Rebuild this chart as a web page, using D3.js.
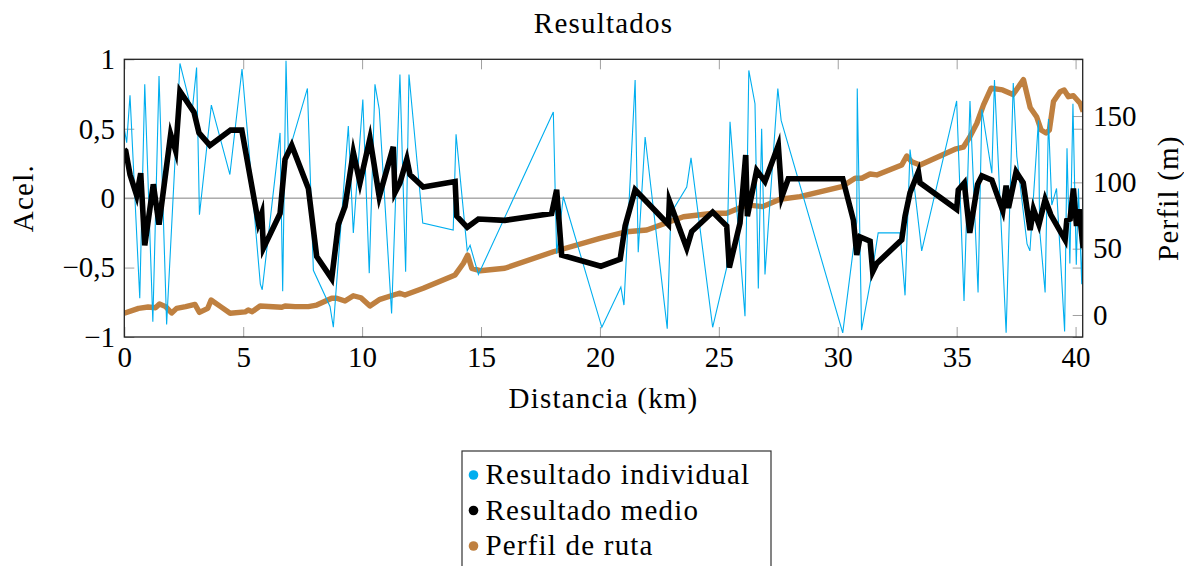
<!DOCTYPE html>
<html>
<head>
<meta charset="utf-8">
<script src="https://cdn.jsdelivr.net/npm/d3@7"></script>
<style>
  body { margin: 0; background: #fff; }
  svg { display: block; }
  text { font-family: "Liberation Serif", "Times New Roman", serif; fill: #000; }
</style>
</head>
<body>
<svg id="chart" width="1184" height="566"></svg>
<script>
// Individual acceleration result along the route
const distIndividual = [0.00,0.10,0.24,0.65,0.86,1.20,1.46,1.78,2.34,2.85,3.04,3.16,3.66,4.44,4.95,5.72,5.80,6.55,6.66,6.80,6.90,7.70,7.95,8.65,8.79,9.42,9.63,10.03,10.30,10.54,10.72,11.24,11.59,11.83,11.97,12.55,13.83,13.95,14.42,14.54,14.89,18.04,18.18,18.46,20.08,20.88,21.01,21.48,21.61,21.90,22.83,22.98,23.65,23.83,24.74,25.33,25.47,26.10,26.26,26.52,26.66,26.80,26.94,27.48,27.62,30.21,30.80,30.82,31.00,31.42,31.70,32.62,32.83,33.04,33.53,35.00,35.31,35.56,35.90,36.06,36.48,36.59,37.08,37.38,37.53,37.96,38.08,38.44,38.49,38.72,38.86,39.00,39.20,39.54,39.64,39.76,39.89,40.03,40.12,40.26,40.33];
const acelIndividual = [0.50,0.40,0.74,-0.72,0.82,-0.89,0.88,-0.91,0.97,0.62,0.94,-0.12,0.67,0.17,0.93,-0.62,-0.66,0.47,-0.67,0.99,0.32,0.79,-0.52,-0.78,-0.93,0.52,-0.25,0.71,-0.54,0.82,0.64,-0.83,0.89,-0.53,0.89,-0.18,-0.23,0.46,-0.38,-0.34,-0.55,0.62,-0.40,0.01,-0.93,-0.64,-0.77,0.85,-0.39,0.44,-0.94,-0.11,0.08,0.29,-0.93,-0.50,0.55,-0.85,0.92,0.68,-0.65,0.50,-0.55,0.79,0.56,-0.97,-0.17,0.79,-0.95,-0.56,-0.25,-0.25,-0.70,0.35,-0.38,0.70,-0.74,0.70,-0.68,0.64,0.18,0.85,-0.97,0.83,0.30,-0.33,-0.38,0.56,-0.23,-0.68,0.57,-0.05,0.07,-0.96,0.36,-0.47,0.68,-0.48,0.07,-0.62,0.06];

// Averaged acceleration result
const distMedio = [0.00,0.06,0.24,0.52,0.69,0.86,1.22,1.46,1.95,2.16,2.34,2.93,3.14,3.60,4.47,4.94,5.64,5.78,5.85,6.55,6.76,7.04,7.74,8.09,8.72,9.00,9.28,9.63,9.91,10.33,10.72,11.31,11.38,11.59,11.88,12.01,12.57,13.91,13.98,14.42,14.89,16.00,17.97,18.18,18.39,20.04,20.85,21.06,21.48,22.88,22.92,23.65,23.86,24.74,25.33,25.44,25.89,26.13,26.20,26.59,26.94,27.50,27.65,27.92,30.21,30.66,30.80,30.94,31.36,31.47,31.64,32.69,32.83,33.04,33.39,33.46,35.00,35.07,35.32,35.55,35.88,36.06,36.48,36.94,37.08,37.18,37.50,37.80,38.09,38.23,38.46,38.72,38.96,39.56,39.63,39.77,39.91,40.04,40.15,40.32];
const acelMedio = [0.35,0.34,0.17,0.02,0.18,-0.34,0.10,-0.19,0.46,0.34,0.77,0.62,0.47,0.38,0.49,0.49,-0.18,-0.11,-0.36,-0.11,0.28,0.38,0.07,-0.42,-0.58,-0.19,-0.06,0.33,0.11,0.43,0.01,0.37,0.04,0.11,0.28,0.17,0.08,0.12,-0.13,-0.21,-0.15,-0.16,-0.11,0.06,-0.41,-0.49,-0.44,-0.20,0.06,-0.19,-0.02,-0.36,-0.24,-0.10,-0.20,-0.50,-0.18,0.31,-0.13,0.20,0.12,0.38,0.01,0.14,0.14,-0.16,-0.41,-0.28,-0.31,-0.53,-0.47,-0.30,-0.13,0.04,0.19,0.11,-0.08,0.06,0.11,-0.25,0.10,0.16,0.13,-0.09,0.09,-0.07,0.19,0.11,-0.23,-0.08,-0.19,-0.01,-0.12,-0.30,-0.16,-0.15,0.07,-0.20,-0.08,-0.36];

// Route elevation profile (m)
const distPerfil = [0.00,0.60,1.00,1.32,1.48,1.74,1.99,2.20,2.58,2.97,3.16,3.51,3.65,4.05,4.45,5.08,5.21,5.38,5.71,6.62,6.76,7.18,7.74,8.09,8.72,8.93,9.28,9.63,9.95,10.33,10.75,11.46,11.59,11.80,12.57,13.91,14.26,14.44,14.61,14.96,16.00,18.04,20.00,21.13,21.97,23.51,24.77,25.33,26.17,26.85,27.57,28.41,30.17,30.73,31.01,31.36,31.64,32.69,32.90,33.11,33.46,34.93,35.28,35.56,35.85,36.13,36.45,36.93,37.37,37.81,38.09,38.36,38.55,38.76,38.90,39.07,39.35,39.52,39.70,39.91,40.19,40.32];
const altPerfil = [1.3,5.0,6.0,5.5,8.3,6.3,1.5,5.0,6.3,8.0,2.0,5.0,11.3,6.3,1.3,2.3,3.8,2.5,6.8,5.8,6.8,6.3,6.3,7.5,12.6,12.6,10.5,14.5,13.0,6.8,11.8,15.8,16.4,15.1,20.1,30.2,39.0,45.2,35.2,33.4,35.2,47.7,57.8,62.8,64.1,74.1,76.7,76.7,83.0,81.7,87.3,89.2,96.8,103.1,103.1,106.3,105.6,113.1,119.9,115.6,113.1,125.0,126.5,134.5,144.6,158.4,171.0,169.7,166.3,177.5,156.5,149.5,139.5,137.2,139.5,160.9,168.4,169.7,164.6,165.3,159.7,153.3];

// Axis ticks
const distTicks = [0, 5, 10, 15, 20, 25, 30, 35, 40];
const acelTicks = [-1, -0.5, 0, 0.5, 1];
const acelTickLabels = ["\u22121", "\u22120,5", "0", "0,5", "1"];
const perfilTicks = [0, 50, 100, 150];

// Legend
const legendLabels = ["Resultado individual", "Resultado medio", "Perfil de ruta"];
const legendColors = ["#00AEEF", "#000000", "#BF8040"];

const svg = d3.select("#chart");
const box = { left: 124.3, right: 1082.7, top: 59.3, bottom: 337 };
const FONT = 29;
const SPACING = 1.2;

const x = d3.scaleLinear().domain([0, 40.3]).range([box.left, box.right]);
const yAcel = d3.scaleLinear().domain([-1, 1]).range([box.bottom, box.top]);
const yPerfil = d3.scaleLinear().domain([-16.6, 192.8]).range([box.bottom, box.top]);

svg.append("defs").append("clipPath").attr("id", "plot-clip")
  .append("rect")
  .attr("x", box.left).attr("y", box.top)
  .attr("width", box.right - box.left).attr("height", box.bottom - box.top);

// zero reference line
svg.append("line")
  .attr("x1", box.left).attr("x2", box.right)
  .attr("y1", yAcel(0)).attr("y2", yAcel(0))
  .attr("stroke", "#808080").attr("stroke-width", 1);

function styleAxis(g) {
  g.select(".domain").remove();
  g.selectAll(".tick line").attr("stroke", "#a0a0a0").attr("stroke-width", 1);
  g.selectAll(".tick text").attr("font-size", FONT).attr("font-family", "Liberation Serif").attr("fill", "#000");
}

// bottom axis with labels, top axis ticks only
svg.append("g").attr("transform", `translate(0,${box.bottom})`)
  .call(d3.axisBottom(x).tickValues(distTicks).tickFormat(d3.format("d")).tickSizeInner(-10).tickSizeOuter(0).tickPadding(9.4))
  .call(styleAxis);
svg.append("g").attr("transform", `translate(0,${box.top})`)
  .call(d3.axisTop(x).tickValues(distTicks).tickFormat("").tickSizeInner(-10).tickSizeOuter(0))
  .call(styleAxis);

// left acceleration axis, ticks mirrored on the right edge
svg.append("g").attr("transform", `translate(${box.left},0)`)
  .call(d3.axisLeft(yAcel).tickValues(acelTicks).tickFormat((d, i) => acelTickLabels[i]).tickSizeInner(-10).tickSizeOuter(0).tickPadding(9.3))
  .call(styleAxis);
svg.append("g").attr("transform", `translate(${box.right},0)`)
  .call(d3.axisRight(yAcel).tickValues(acelTicks).tickFormat("").tickSizeInner(-10).tickSizeOuter(0))
  .call(styleAxis);

// right elevation axis
svg.append("g").attr("transform", `translate(${box.right},0)`)
  .call(d3.axisRight(yPerfil).tickValues(perfilTicks).tickFormat(d3.format("d")).tickSizeInner(-10).tickSizeOuter(0).tickPadding(10.3))
  .call(styleAxis);

const plotArea = svg.append("g").attr("clip-path", "url(#plot-clip)");

const lineOf = (xs, ys, yScale) => d3.line()
  .x((d, i) => x(xs[i]))
  .y((d, i) => yScale(ys[i]))(xs);

plotArea.append("path")
  .attr("d", lineOf(distPerfil, altPerfil, yPerfil))
  .attr("fill", "none").attr("stroke", legendColors[2])
  .attr("stroke-width", 5.4).attr("stroke-linejoin", "round");

plotArea.append("path")
  .attr("d", lineOf(distIndividual, acelIndividual, yAcel))
  .attr("fill", "none").attr("stroke", legendColors[0])
  .attr("stroke-width", 1.1).attr("stroke-linejoin", "miter");

plotArea.append("path")
  .attr("d", lineOf(distMedio, acelMedio, yAcel))
  .attr("fill", "none").attr("stroke", legendColors[1])
  .attr("stroke-width", 5.6).attr("stroke-linejoin", "miter").attr("stroke-miterlimit", 6);

// frame
svg.append("rect")
  .attr("x", box.left).attr("y", box.top)
  .attr("width", box.right - box.left).attr("height", box.bottom - box.top)
  .attr("fill", "none").attr("stroke", "#222").attr("stroke-width", 1.3);

// title and axis labels
svg.append("text").attr("x", (box.left + box.right) / 2).attr("y", 33)
  .attr("text-anchor", "middle").attr("font-size", FONT).attr("letter-spacing", SPACING)
  .text("Resultados");
svg.append("text").attr("x", (box.left + box.right) / 2).attr("y", 408)
  .attr("text-anchor", "middle").attr("font-size", FONT).attr("letter-spacing", SPACING)
  .text("Distancia (km)");
svg.append("text").attr("transform", `translate(33,${(box.top + box.bottom) / 2}) rotate(-90)`)
  .attr("text-anchor", "middle").attr("font-size", FONT).attr("letter-spacing", SPACING)
  .text("Acel.");
svg.append("text").attr("transform", `translate(1178,${(box.top + box.bottom) / 2}) rotate(-90)`)
  .attr("text-anchor", "middle").attr("font-size", FONT).attr("letter-spacing", SPACING)
  .text("Perfil (m)");

// legend
const legend = svg.append("g");
legend.append("rect")
  .attr("x", 462).attr("y", 451).attr("width", 309).attr("height", 140)
  .attr("fill", "#fff").attr("stroke", "#333").attr("stroke-width", 1.2);
legendLabels.forEach((label, i) => {
  const cy = 475 + i * 35.5;
  legend.append("circle").attr("cx", 473.5).attr("cy", cy).attr("r", 4.8).attr("fill", legendColors[i]);
  legend.append("text").attr("x", 485.5).attr("y", cy + 9)
    .attr("font-size", FONT).attr("letter-spacing", SPACING).text(label);
});
</script>
</body>
</html>
